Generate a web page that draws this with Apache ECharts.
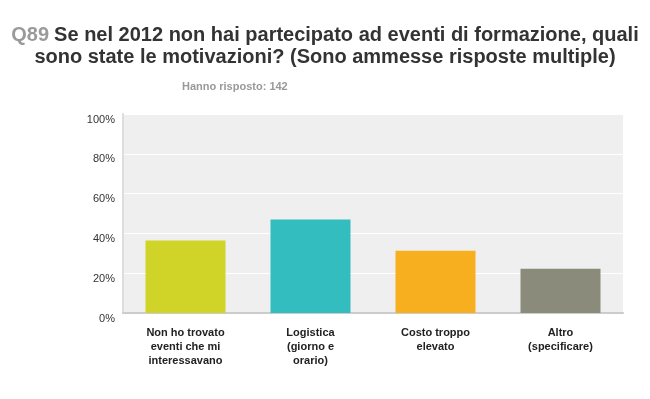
<!DOCTYPE html>
<html>
<head>
<meta charset="utf-8">
<script src="https://cdn.jsdelivr.net/npm/echarts@6/dist/echarts.min.js"></script>
<style>html,body{margin:0;padding:0;background:#fff}#c{width:650px;height:399px}</style>
</head>
<body>
<div id="c"></div>
<script>
const categories = ["Non ho trovato\neventi che mi\ninteressavano", "Logistica\n(giorno e\norario)", "Costo troppo\nelevato", "Altro\n(specificare)"];
const values = [36.4, 47.0, 31.3, 22.2];
const colors = ["#D0D428", "#34BDBF", "#F7AF1F", "#8B8B7B"];
const yTicks = [0, 20, 40, 60, 80, 100];

const F = 'Liberation Sans, Arial';
const chart = echarts.init(document.getElementById('c'), null, {renderer: 'canvas'});
chart.setOption({
  animation: false,
  title: [{
    text: '{q|Q89} {t|Se nel 2012 non hai partecipato ad eventi di formazione, quali}',
    left: 'center',
    top: 24,
    padding: 0,
    textStyle: {
      rich: {
        q: {fontFamily: F, fontWeight: 'bold', fontSize: 20, color: '#9A9A9A', lineHeight: 22},
        t: {fontFamily: F, fontWeight: 'bold', fontSize: 20, color: '#333333', lineHeight: 22}
      }
    }
  }, {
    text: 'sono state le motivazioni? (Sono ammesse risposte multiple)',
    left: 'center',
    top: 46,
    padding: 0,
    textStyle: {fontFamily: F, fontWeight: 'bold', fontSize: 20, color: '#333333', lineHeight: 22}
  }, {
    text: 'Hanno risposto: 142',
    left: 182,
    top: 81,
    padding: 0,
    textStyle: {fontFamily: F, fontWeight: 'bold', fontSize: 11, color: '#999999', lineHeight: 12}
  }],
  grid: {left: 123, right: 27, top: 114, bottom: 86, show: true, backgroundColor: '#EFEFEF', borderWidth: 0},
  xAxis: {
    type: 'category',
    data: categories,
    axisTick: {show: false},
    axisLine: {lineStyle: {color: '#CCCCCC', width: 2}},
    axisLabel: {interval: 0, fontFamily: F, fontWeight: 'bold', fontSize: 11, color: '#222222', lineHeight: 14, margin: 13}
  },
  yAxis: {
    type: 'value',
    min: 0, max: 100, interval: 20,
    axisLine: {show: true, lineStyle: {color: '#DDDDDD', width: 2}},
    axisTick: {show: false},
    splitLine: {lineStyle: {color: '#FFFFFF', width: 1}},
    axisLabel: {formatter: '{value}%', fontFamily: F, fontSize: 11, color: '#333333', margin: 8, verticalAlign: 'top'}
  },
  series: [{
    type: 'bar',
    data: values.map((v, i) => ({value: v, itemStyle: {color: colors[i]}})),
    barWidth: '64%'
  }]
});
</script>
</body>
</html>
